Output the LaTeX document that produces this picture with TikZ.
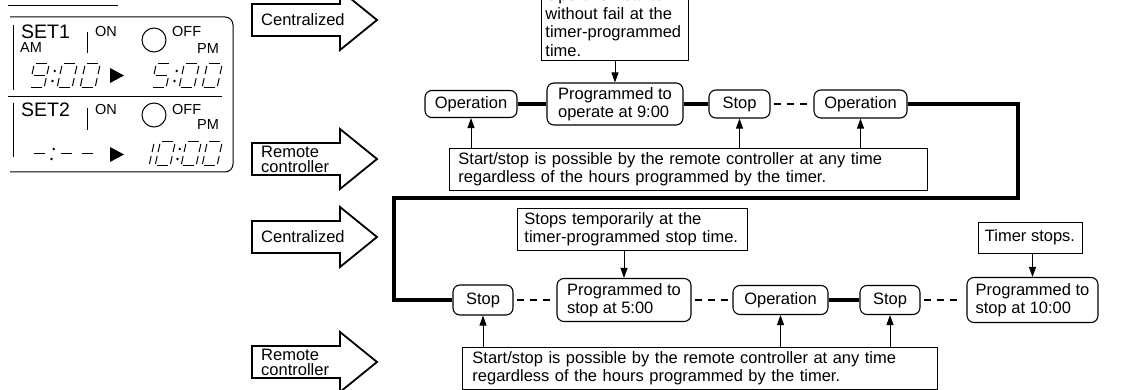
\documentclass[tikz,border=0pt]{standalone}
\usepackage{fontspec}
\setmainfont{Liberation Sans}
\usetikzlibrary{arrows.meta, positioning, calc}

\newcommand{\notefont}{\fontsize{16.5pt}{18.5pt}\selectfont}
% seven-segment display helpers (digit 15 wide, 24 high, slanted)
\newcommand{\lcdseg}[4]{\draw[lcdline] ({\lcdx+#1+0.22*#2},{\lcdy-#2}) -- ({\lcdx+#3+0.22*#4},{\lcdy-#4});}
\newcommand{\segA}{\lcdseg{2}{24}{13}{24}}
\newcommand{\segB}{\lcdseg{15}{22}{15}{14}}
\newcommand{\segC}{\lcdseg{15}{10}{15}{2}}
\newcommand{\segD}{\lcdseg{2}{0}{13}{0}}
\newcommand{\segE}{\lcdseg{0}{2}{0}{10}}
\newcommand{\segF}{\lcdseg{0}{14}{0}{22}}
\newcommand{\segG}{\lcdseg{2}{12}{13}{12}}
\newcommand{\lcddigit}[3]{\def\lcdx{#1}\def\lcdy{#2}#3}
\newcommand{\lcdzero}{\segA\segB\segC\segD\segE\segF}
\newcommand{\lcdcolon}[2]{\fill ({#1+0.22*7},{#2-7}) circle (1.4pt) ({#1+0.22*17},{#2-17}) circle (1.4pt);}

\begin{document}
\begin{tikzpicture}[
    x=1pt, y=-1pt,
    rbox/.style={draw, line width=1.1pt, rounded corners=7pt, font=\notefont, inner sep=0pt, align=left},
    note/.style={draw, line width=0.9pt, font=\notefont, align=left, inner xsep=8pt, inner ysep=4pt},
    blockarrow/.style={draw, line width=1.8pt, line join=miter},
    arrowlabel/.style={anchor=west, inner sep=0pt, align=left, font=\fontsize{16.5pt}{15pt}\selectfont},
    thickline/.style={line width=4.5pt},
    dashline/.style={line width=1.5pt, dash pattern=on 7pt off 6pt, shorten <=3pt, shorten >=4pt},
    arr/.style={-{Triangle[length=10pt, width=7pt]}, line width=0.9pt},
    lcdline/.style={line width=1pt},
    lcdbig/.style={anchor=base west, inner sep=0pt, font=\fontsize{19.5pt}{20pt}\selectfont},
    lcdsmall/.style={anchor=base west, inner sep=0pt, font=\fontsize{14.5pt}{15pt}\selectfont}
]
    \useasboundingbox (0,0) rectangle (1124,390);

    % Timer display panel
    \draw[line width=1pt] (8,6) -- (118,6);
    \draw[line width=1pt, rounded corners=8pt] (10,17) -- (233,17) -- (233,172) -- (10,172);
    \draw[line width=1pt] (8,97) -- (222,97);
    \draw[line width=1pt] (13,25) -- (13,90) (13,103) -- (13,157);
    \draw[line width=1pt] (87,32) -- (87,53) (87,108) -- (87,130);
    \draw[line width=1pt] (154,40) circle (12pt) (154,115) circle (12pt);
    \node[lcdbig] (setA) at (21,39) {SET1};
    \node[lcdsmall] (amA) at (20,53) {AM};
    \node[lcdsmall] (onA) at (95,37) {ON};
    \node[lcdsmall] (offA) at (172,37) {OFF};
    \node[lcdsmall] (pmA) at (197,54) {PM};
    \node[lcdbig] (setB) at (21,117) {SET2};
    \node[lcdsmall] (onB) at (95,115) {ON};
    \node[lcdsmall] (offB) at (172,115) {OFF};
    \node[lcdsmall] (pmB) at (197,130) {PM};
    \lcddigit{29}{88}{\segA\segB\segC\segD\segF\segG}
    \lcdcolon{51}{88}
    \lcddigit{57}{88}{\lcdzero}
    \lcddigit{80}{88}{\lcdzero}
    \fill (110,68) -- (110,83) -- (124,75.5) -- cycle;
    \lcddigit{151}{88}{\segA\segF\segG\segC\segD}
    \lcdcolon{173}{88}
    \lcddigit{179}{88}{\lcdzero}
    \lcddigit{202}{88}{\lcdzero}
    \lcddigit{29}{166}{\segG}
    \lcdcolon{50}{166}
    \lcddigit{56}{166}{\segG}
    \lcddigit{77}{166}{\segG}
    \fill (110,147) -- (110,162) -- (124,154.5) -- cycle;
    \lcddigit{134}{166}{\segB\segC}
    \lcddigit{155}{166}{\lcdzero}
    \lcdcolon{176}{166}
    \lcddigit{181}{166}{\lcdzero}
    \lcddigit{202}{166}{\lcdzero}

    % Block arrows
    \foreach \ay/\aname/\atext in {20/cenA/Centralized, 159/remA/{Remote\\controller}, 237/cenB/Centralized, 362/remB/{Remote\\controller}} {
        \draw[blockarrow] (252,\ay-16) -- (340,\ay-16) -- (340,\ay-30) -- (377,\ay) -- (340,\ay+30) -- (340,\ay+16) -- (252,\ay+16) -- cycle;
        \node[arrowlabel] (\aname) at (261,\ay) {\atext};
    }

    % Nodes: first day
    \node[note, text width=139pt, inner xsep=4pt, anchor=south west] (noteop) at (541,61) {Operation starts\\without fail at the\\timer-programmed\\time.};
    \node[rbox, minimum width=92pt, minimum height=27pt] (opA) at (471,104) {Operation};
    \node[rbox, minimum width=136pt, minimum height=42pt] (progA) at (615,104) {Programmed to\\operate at 9:00};
    \node[rbox, minimum width=61pt, minimum height=28pt] (stopA) at (739.5,104) {Stop};
    \node[rbox, minimum width=93pt, minimum height=28pt] (opB) at (860.5,104) {Operation};
    \node[note, text width=460pt, inner xsep=9pt, anchor=north west] (remnoteA) at (449,148) {Start/stop is possible by the remote controller at any time\\regardless of the hours programmed by the timer.};

    % Nodes: second day
    \node[note, text width=216pt, inner xsep=7pt, anchor=north west] (notestop) at (517,208) {Stops temporarily at the\\timer-programmed stop time.};
    \node[note, minimum width=104pt, minimum height=31pt, inner xsep=4pt] (notetimer) at (1030,237.5) {Timer stops.};
    \node[rbox, minimum width=60pt, minimum height=30pt] (stopB) at (483,300) {Stop};
    \node[rbox, minimum width=134pt, minimum height=43pt] (progB) at (624,300) {Programmed to\\stop at 5:00};
    \node[rbox, minimum width=95pt, minimum height=29pt] (opC) at (780.5,300) {Operation};
    \node[rbox, minimum width=60pt, minimum height=29pt] (stopC) at (890,300) {Stop};
    \node[rbox, minimum width=131pt, minimum height=45pt] (progC) at (1032.5,300) {Programmed to\\stop at 10:00};
    \node[note, text width=455pt, inner xsep=10pt, anchor=north west] (remnoteB) at (462,347) {Start/stop is possible by the remote controller at any time\\regardless of the hours programmed by the timer.};

    % Connections
    \coordinate (turnR) at (1018,198);
    \coordinate (turnL) at (394,198);
    \draw[thickline] (opA) -- (progA);
    \draw[thickline] (progA) -- (stopA);
    \draw[dashline] (stopA) -- (opB);
    \draw[thickline] (opB.east) -| (turnR) -- (turnL) |- (stopB.west);
    \draw[dashline] (stopB) -- (progB);
    \draw[dashline] (progB) -- (opC);
    \draw[thickline] (opC) -- (stopC);
    \draw[dashline] (stopC) -- (progC);

    \draw[arr] (noteop.south -| progA.north) -- (progA.north);
    \draw[arr] (remnoteA.north -| opA.south) -- (opA.south);
    \draw[arr] (remnoteA.north -| stopA.south) -- (stopA.south);
    \draw[arr] (remnoteA.north -| opB.south) -- (opB.south);
    \draw[arr] (notestop.south -| progB.north) -- (progB.north);
    \draw[arr] (notetimer.south -| progC.north) -- (progC.north);
    \draw[arr] (remnoteB.north -| stopB.south) -- (stopB.south);
    \draw[arr] (remnoteB.north -| opC.south) -- (opC.south);
    \draw[arr] (remnoteB.north -| stopC.south) -- (stopC.south);
\end{tikzpicture}
\end{document}
